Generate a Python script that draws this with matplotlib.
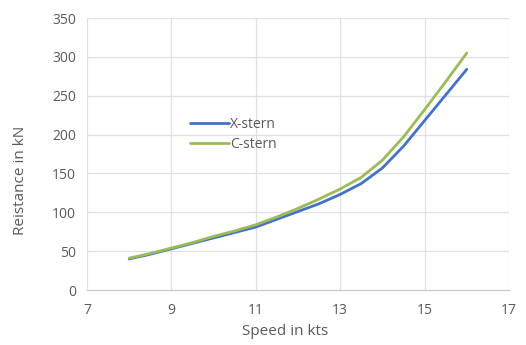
import matplotlib
matplotlib.use("Agg")
import matplotlib.pyplot as plt

speed = [8, 8.5, 9, 9.5, 10, 10.5, 11, 11.5, 12, 12.5, 13, 13.5, 14, 14.5, 15, 15.5, 16]
x_stern = [40, 46, 53, 60, 67, 74, 81, 91, 101, 111, 123, 137, 157, 185, 218, 251, 284]
c_stern = [41, 47, 54, 61, 69, 76, 84, 94, 105, 117, 130, 145, 167, 197, 232, 268, 305]
x_ticks = [7, 9, 11, 13, 15, 17]
y_ticks = [0, 50, 100, 150, 200, 250, 300, 350]

plt.rcParams['font.family'] = ['Open Sans', 'DejaVu Sans']
txt = '#595959'

fig = plt.figure(figsize=(5.26, 3.45), dpi=100)
ax = fig.add_axes([87/526, 1-290/345, 422/526, 272/345])

ax.plot(speed, x_stern, color='#4472C4', lw=2.0, label='X-stern', solid_capstyle='round')
ax.plot(speed, c_stern, color='#9BBB59', lw=2.0, label='C-stern', solid_capstyle='round')

ax.set_xlim(7, 17)
ax.set_ylim(0, 350)
ax.set_xticks(x_ticks)
ax.set_yticks(y_ticks)
ax.grid(True, color='#E0E0E0', lw=0.9)
ax.set_axisbelow(True)
for s in ['top', 'right', 'left']:
    ax.spines[s].set_visible(False)
ax.spines['bottom'].set_color('#C8C8C8')
ax.tick_params(length=0, colors=txt, labelsize=10)
ax.tick_params(axis='x', pad=9)
ax.tick_params(axis='y', pad=8)

ax.set_xlabel('Speed in kts', color=txt, fontsize=11)
ax.xaxis.set_label_coords((285-87)/422, -(324-290)/272)
ax.set_ylabel('Reistance in kN', color=txt, fontsize=11)
ax.yaxis.set_label_coords(-(87-28)/422, (290-180)/272)

leg = ax.legend(loc='upper left', bbox_to_anchor=((183-87)/422, 1-(110-18)/272),
                frameon=False, fontsize=10, handlelength=2.8, handletextpad=0.1,
                labelspacing=0.35, borderpad=0)
for t in leg.get_texts():
    t.set_color(txt)

fig.savefig('out.png', dpi=100)
